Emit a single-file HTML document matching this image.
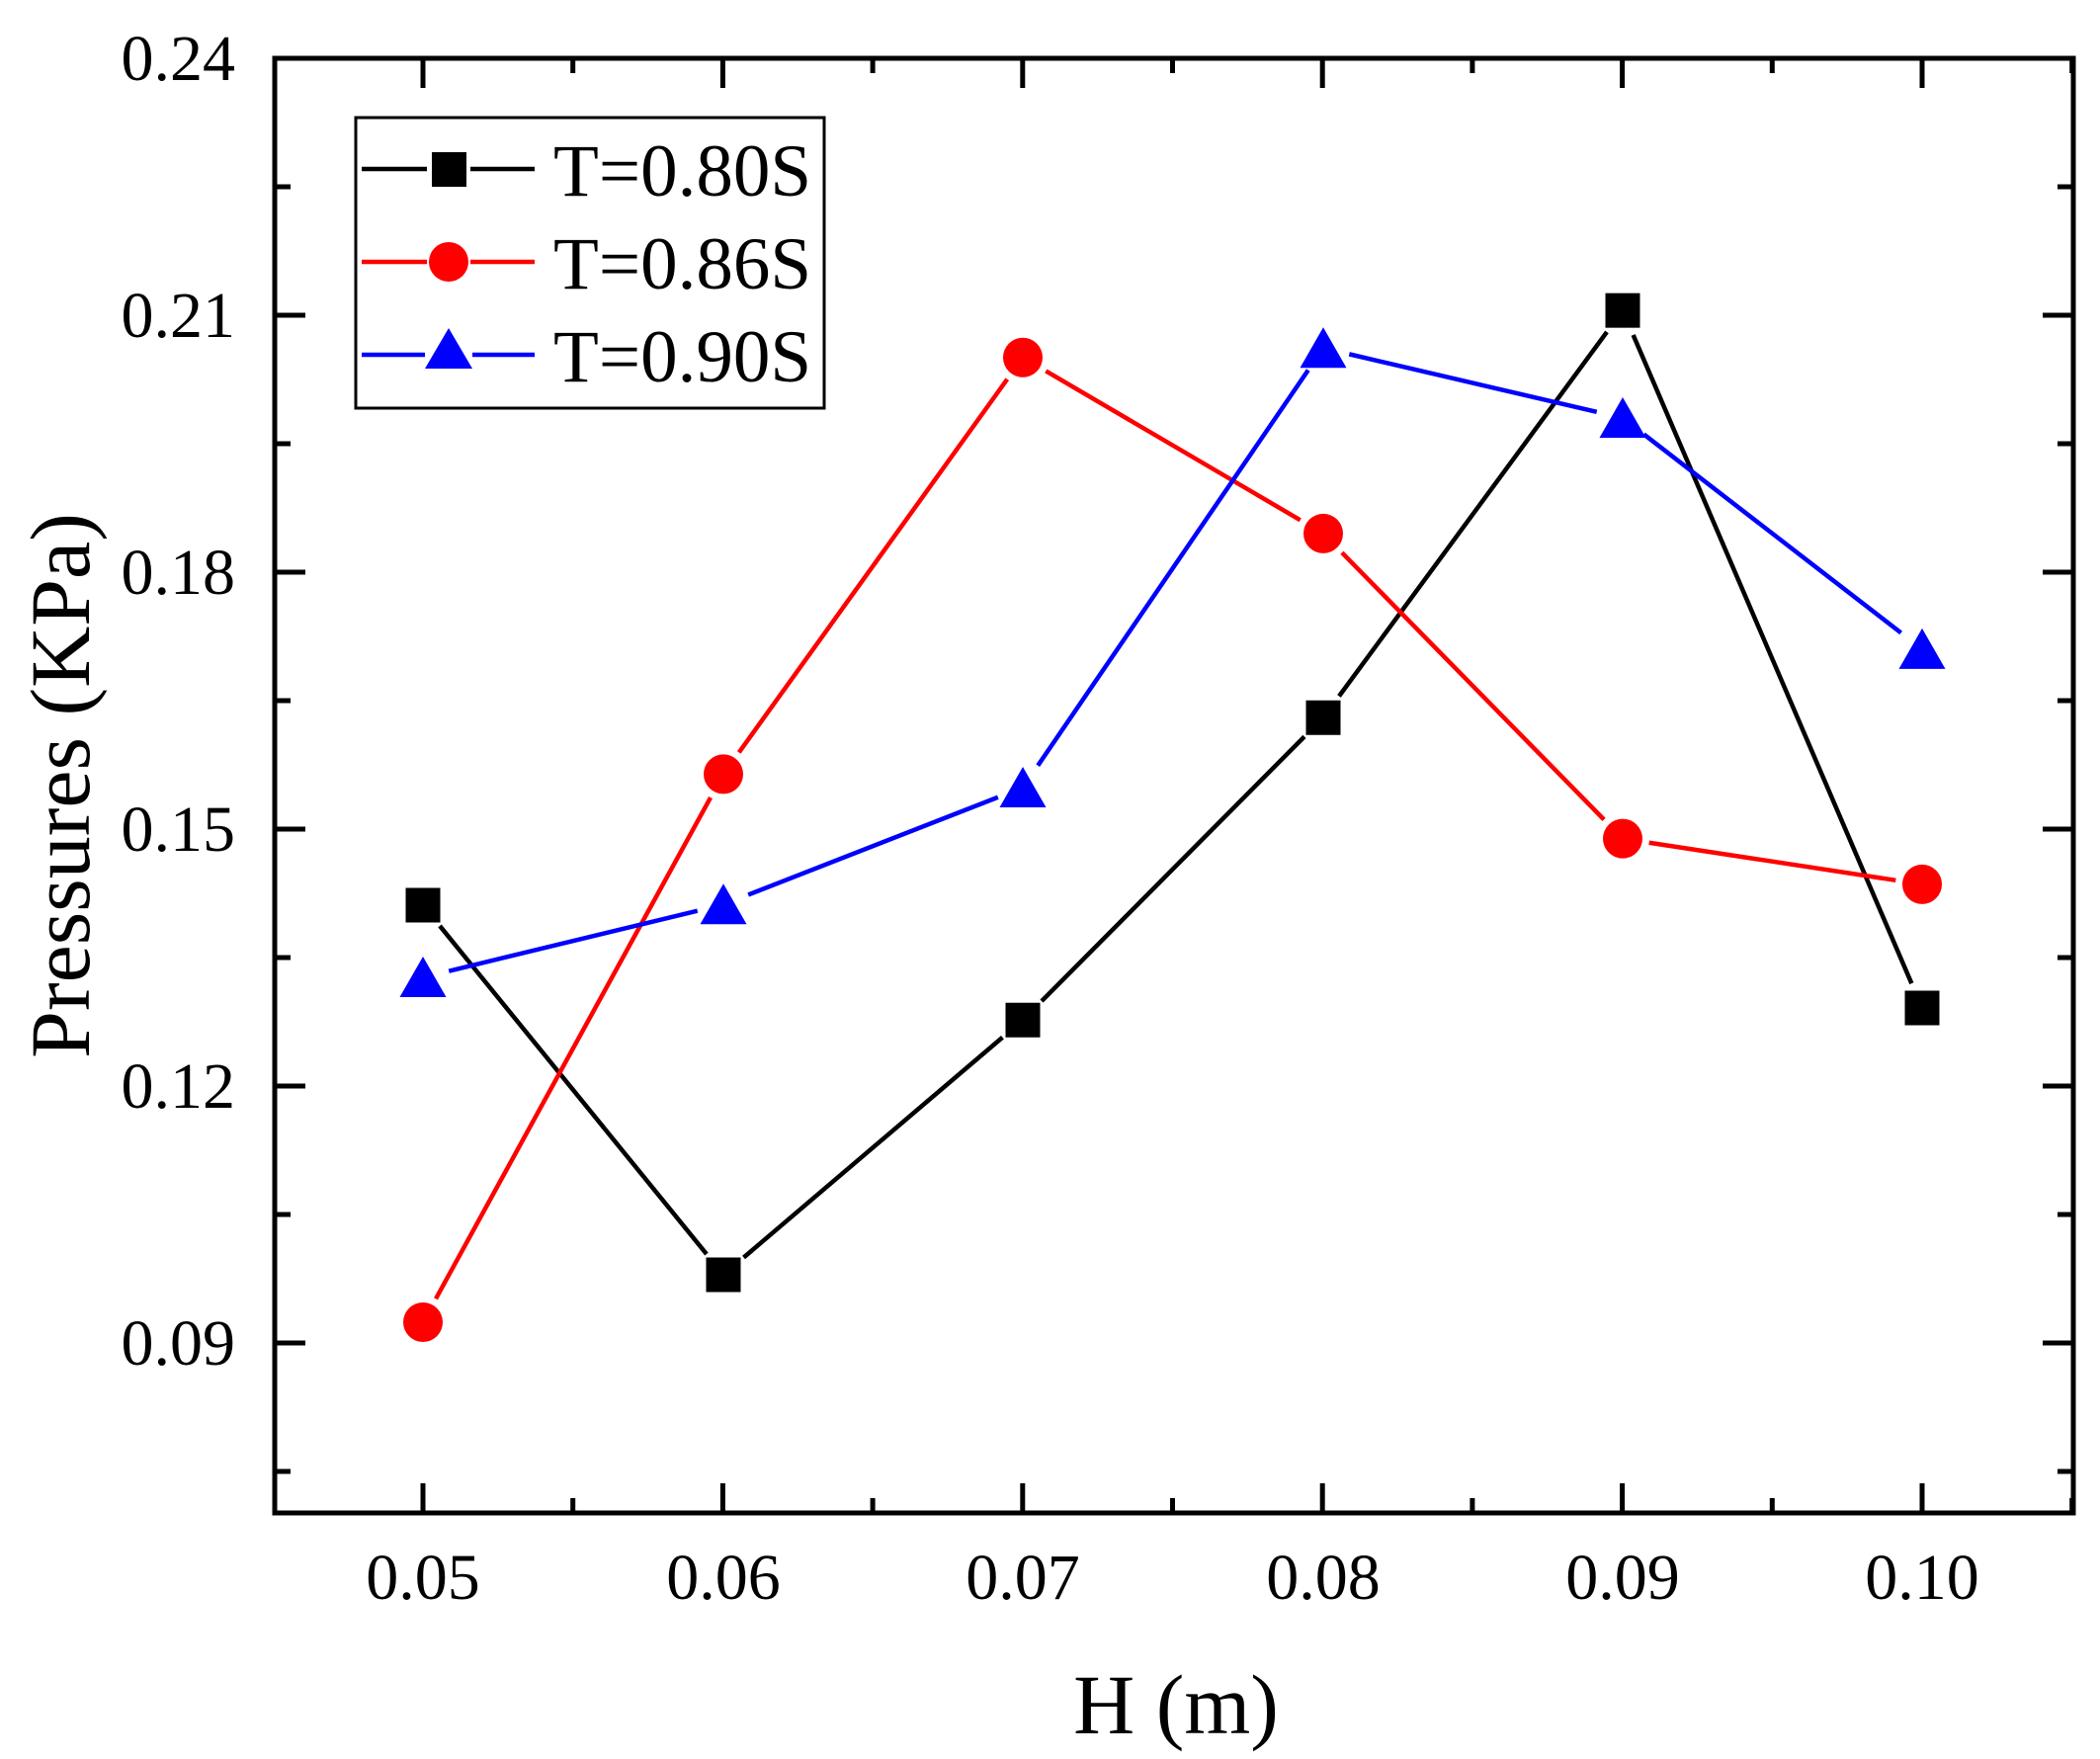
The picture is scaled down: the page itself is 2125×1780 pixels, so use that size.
<!DOCTYPE html>
<html><head><meta charset="utf-8"><style>
html,body{margin:0;padding:0;background:#fff;}
svg{display:block;}
text{font-family:"Liberation Serif","Times New Roman",serif;fill:#000;}
</style></head><body>
<svg id="s" width="2125" height="1780" viewBox="0 0 2125 1780" xmlns="http://www.w3.org/2000/svg">
<rect width="2125" height="1780" fill="#fff"/>
<g id="g"></g>
<rect x="278" y="59" width="1820" height="1472" fill="none" stroke="#000" stroke-width="5"/>
<g font-size="66" text-anchor="end">
<text x="238" y="81">0.24</text>
<text x="238" y="341">0.21</text>
<text x="238" y="601">0.18</text>
<text x="238" y="861">0.15</text>
<text x="238" y="1121">0.12</text>
<text x="238" y="1381">0.09</text>
</g>
<g font-size="66" text-anchor="middle">
<text x="428" y="1618">0.05</text>
<text x="732" y="1618">0.06</text>
<text x="1035" y="1618">0.07</text>
<text x="1339" y="1618">0.08</text>
<text x="1642" y="1618">0.09</text>
<text x="1945" y="1618">0.10</text>
</g>
<text x="1190" y="1754" font-size="86" text-anchor="middle">H (m)</text>
<text transform="translate(90,795) rotate(-90)" font-size="86" text-anchor="middle">Pressures (KPa)</text>
<rect x="360" y="119" width="474" height="294" fill="#fff" stroke="#000" stroke-width="3"/>
<g stroke-width="4.5">
<line x1="366" y1="171" x2="432" y2="171" stroke="#000"/><line x1="476" y1="171" x2="541" y2="171" stroke="#000"/>
<rect x="437" y="154" width="35" height="35" fill="#000"/>
<line x1="366" y1="265" x2="432" y2="265" stroke="#f00"/><line x1="476" y1="265" x2="541" y2="265" stroke="#f00"/>
<circle cx="454" cy="265" r="20" fill="#f00"/>
<line x1="366" y1="359" x2="430" y2="359" stroke="#00f"/><line x1="478" y1="359" x2="541" y2="359" stroke="#00f"/>
<polygon points="454,332 430,373 478,373" fill="#00f"/>
</g>
<g font-size="75">
<text x="560" y="198">T=0.80S</text>
<text x="560" y="292">T=0.86S</text>
<text x="560" y="386">T=0.90S</text>
</g>
</svg>
<script>
var g=document.getElementById('g'),NS='http://www.w3.org/2000/svg';
function el(n,a){var e=document.createElementNS(NS,n);for(var k in a)e.setAttribute(k,a[k]);g.appendChild(e);return e;}
var L=278,R=2098,T=59,B=1531;
function yv(v){return 59+(0.24-v)/0.03*260;}
for(var i=0;i<=11;i++){var v=0.24-i*0.015;var y=yv(v);if(y>B)break;var len=(i%2==0)?31:16;
el('line',{x1:L,y1:y,x2:L+len,y2:y,stroke:'#000','stroke-width':5});
el('line',{x1:R,y1:y,x2:R-len,y2:y,stroke:'#000','stroke-width':5});}
for(var i=-1;i<=11;i++){var x=428+i*151.7;if(x<L||x>R)continue;var len=(i%2==0)?30:15;
el('line',{x1:x,y1:B,x2:x,y2:B-len,stroke:'#000','stroke-width':5});
el('line',{x1:x,y1:T,x2:x,y2:T+len,stroke:'#000','stroke-width':5});}
var xs=[428,732,1035,1339,1642,1945];
function d(a){return a.map(function(v){return v*1.36;});}
var series=[
{c:'#000',m:'s',y:[916,1290,d([759])[0],d([534])[0],d([231])[0],d([750])[0]]},
{c:'#f00',m:'c',y:[1338,d([576])[0],d([266])[0],d([397])[0],d([624])[0],d([658])[0]]},
{c:'#00f',m:'t',y:[989,d([673])[0],d([586])[0],d([259])[0],d([311])[0],d([483])[0]]}];
series.forEach(function(s){
for(var i=0;i<5;i++){var x1=xs[i],y1=s.y[i],x2=xs[i+1],y2=s.y[i+1];var dx=x2-x1,dy=y2-y1,l=Math.sqrt(dx*dx+dy*dy),gap=27;
el('line',{x1:x1+dx/l*gap,y1:y1+dy/l*gap,x2:x2-dx/l*gap,y2:y2-dy/l*gap,stroke:s.c,'stroke-width':4.5});}
for(var i=0;i<6;i++){var x=xs[i],y=s.y[i];
if(s.m=='s')el('rect',{x:x-17.5,y:y-17.5,width:35,height:35,fill:s.c});
else if(s.m=='c')el('circle',{cx:x,cy:y,r:20,fill:s.c});
else el('polygon',{points:(x)+','+(y-21)+' '+(x-23.5)+','+(y+20)+' '+(x+23.5)+','+(y+20),fill:s.c});}
});
</script>
</body></html>
